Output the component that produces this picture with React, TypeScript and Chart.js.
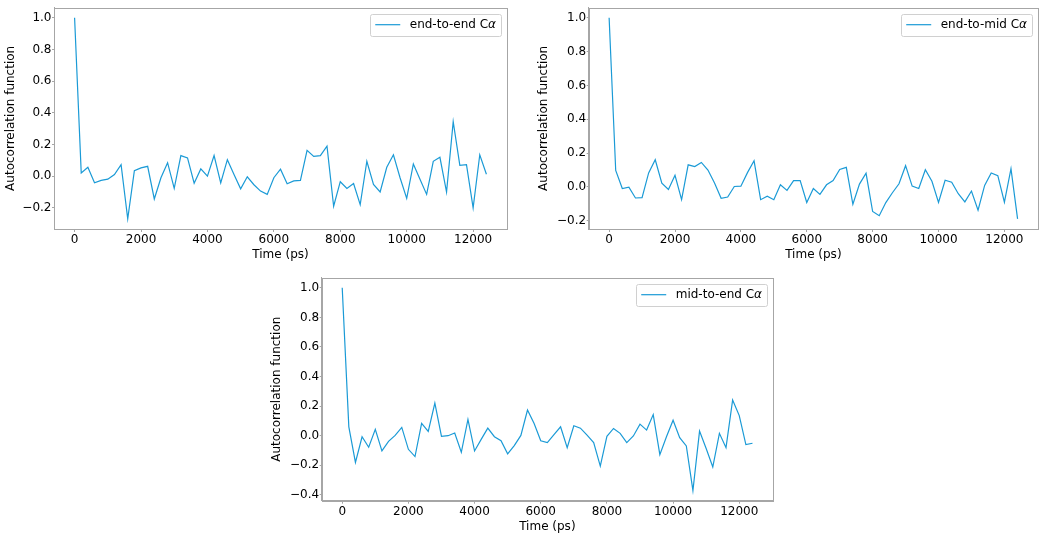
import { useEffect, useRef } from 'react';
import { Chart, registerables } from 'chart.js';

Chart.register(...registerables);

// lag times (ps), one sample every 200 ps
const timePs = [
  0, 200, 400, 600, 800, 1000, 1200, 1400, 1600, 1800, 2000, 2200, 2400, 2600, 2800, 3000,
  3200, 3400, 3600, 3800, 4000, 4200, 4400, 4600, 4800, 5000, 5200, 5400, 5600, 5800, 6000,
  6200, 6400, 6600, 6800, 7000, 7200, 7400, 7600, 7800, 8000, 8200, 8400, 8600, 8800, 9000,
  9200, 9400, 9600, 9800, 10000, 10200, 10400, 10600, 10800, 11000, 11200, 11400, 11600,
  11800, 12000, 12200, 12400,
];

const endToEnd = [
  1.0, 0.02, 0.056, -0.042, -0.027, -0.019, 0.01, 0.073, -0.27, 0.035, 0.052, 0.062, -0.144,
  -0.01, 0.085, -0.077, 0.13, 0.115, -0.044, 0.046, 0.0, 0.13, -0.042, 0.104, 0.01, -0.08,
  -0.004, -0.054, -0.094, -0.115, -0.01, 0.044, -0.048, -0.03, -0.027, 0.163, 0.125, 0.13,
  0.19, -0.19, -0.035, -0.077, -0.046, -0.18, 0.094, -0.052, -0.1, 0.056, 0.135, -0.01,
  -0.14, 0.077, -0.02, -0.115, 0.094, 0.119, -0.1, 0.344, 0.069, 0.073, -0.2, 0.135, 0.0125,
];

const endToMid = [
  1.0, 0.097, -0.01, -0.002, -0.066, -0.064, 0.082, 0.16, 0.021, -0.016, 0.068, -0.076, 0.13,
  0.12, 0.144, 0.099, 0.023, -0.068, -0.06, 0.002, 0.004, 0.084, 0.154, -0.076, -0.056,
  -0.076, 0.012, -0.021, 0.037, 0.037, -0.093, -0.01, -0.045, 0.012, 0.037, 0.103, 0.115,
  -0.103, 0.016, 0.08, -0.146, -0.171, -0.093, -0.035, 0.018, 0.125, 0.004, -0.01, 0.101,
  0.033, -0.093, 0.039, 0.027, -0.041, -0.089, -0.025, -0.138, 0.008, 0.082, 0.066, -0.091,
  0.107, -0.19,
];

const midToEnd = [
  1.0, 0.06, -0.181, -0.007, -0.078, 0.043, -0.103, -0.038, 0.002, 0.056, -0.092, -0.141,
  0.083, 0.029, 0.221, -0.004, 0.0, 0.018, -0.112, 0.11, -0.103, -0.025, 0.051, -0.007,
  -0.034, -0.123, -0.067, 0.002, 0.174, 0.083, -0.034, -0.047, 0.007, 0.06, -0.081, 0.067,
  0.051, 0.004, -0.047, -0.206, -0.004, 0.049, 0.016, -0.047, -0.002, 0.078, 0.038, 0.143,
  -0.128, -0.007, 0.105, -0.013, -0.069, -0.371, 0.031, -0.087, -0.212, 0.016, -0.081, 0.242,
  0.136, -0.06, -0.051,
];

const xTicks = [0, 2000, 4000, 6000, 8000, 10000, 12000];
const yTicksTop = [-0.2, 0, 0.2, 0.4, 0.6, 0.8, 1.0];
const yTicksBottom = [-0.4, -0.2, 0, 0.2, 0.4, 0.6, 0.8, 1.0];

const LINE = '#1a9ad6';
const SPINE = '#a6a6a6';
const FONT = { family: '"DejaVu Sans", sans-serif', size: 12 };

const fmtY = (v: number) => {
  const s = Math.abs(v).toFixed(1);
  return v < -1e-9 ? '\u2212' + s : s;
};

// matplotlib-like frame around the plot area
const framePlugin = {
  id: 'frame',
  afterDatasetsDraw(chart: any) {
    const { ctx, chartArea: a } = chart;
    ctx.save();
    ctx.strokeStyle = SPINE;
    ctx.lineWidth = 1;
    ctx.strokeRect(Math.round(a.left) + 0.5, Math.round(a.top) + 0.5, Math.round(a.right - a.left), Math.round(a.bottom - a.top));
    ctx.restore();
  },
};

// boxed legend in the upper right, with an italic alpha
const legendPlugin = {
  id: 'boxLegend',
  afterDraw(chart: any) {
    const { ctx, chartArea: a } = chart;
    const label: string = chart.data.datasets[0].label;
    const main = label.replace('α', '');
    ctx.save();
    ctx.font = `12px ${FONT.family}`;
    const w1 = ctx.measureText(main).width;
    ctx.font = `italic 12px ${FONT.family}`;
    const w2 = ctx.measureText('α').width;
    const w = 5 + 25 + 9.5 + w1 + w2 + 5;
    const h = 22;
    const x = a.right - 6 - w;
    const y = a.top + 6;
    ctx.fillStyle = 'rgba(255,255,255,0.85)';
    ctx.strokeStyle = '#d0d0d0';
    ctx.lineWidth = 1;
    ctx.beginPath();
    (ctx as any).roundRect(Math.round(x) + 0.5, Math.round(y) + 0.5, Math.round(w), h, 2);
    ctx.fill();
    ctx.stroke();
    const cy = y + h / 2;
    ctx.strokeStyle = LINE;
    ctx.lineWidth = 1.2;
    ctx.beginPath();
    ctx.moveTo(x + 5, cy);
    ctx.lineTo(x + 30, cy);
    ctx.stroke();
    ctx.fillStyle = '#000';
    ctx.textBaseline = 'middle';
    ctx.font = `12px ${FONT.family}`;
    ctx.fillText(main, x + 39.5, cy);
    ctx.font = `italic 12px ${FONT.family}`;
    ctx.fillText('α', x + 39.5 + w1, cy);
    ctx.restore();
  },
};

type PanelProps = {
  values: number[];
  label: string;
  left: number;
  top: number;
  width: number;
  height: number;
  pad: { top: number; right: number; bottom: number };
  yWidth: number;
  xHeight: number;
  yTitlePad: number;
  yMin: number;
  yMax: number;
  yTicks: number[];
};

function Panel(p: PanelProps) {
  const ref = useRef<HTMLCanvasElement>(null);
  useEffect(() => {
    if (!ref.current) return;
    const chart = new Chart(ref.current, {
      type: 'line',
      data: {
        datasets: [
          {
            label: p.label,
            data: timePs.map((t, i) => ({ x: t, y: p.values[i] })),
            borderColor: LINE,
            borderWidth: 1.2,
            pointRadius: 0,
            tension: 0,
            fill: false,
          },
        ],
      },
      options: {
        animation: false,
        responsive: true,
        maintainAspectRatio: false,
        layout: { padding: { left: 0, top: p.pad.top, right: p.pad.right, bottom: p.pad.bottom } },
        plugins: { legend: { display: false }, tooltip: { enabled: false } },
        scales: {
          x: {
            type: 'linear',
            min: -620,
            max: 13020,
            afterBuildTicks: (s: any) => {
              s.ticks = xTicks.map((v) => ({ value: v }));
            },
            afterFit: (s: any) => {
              s.height = p.xHeight;
            },
            grid: { drawOnChartArea: false, drawTicks: true, tickLength: 3, color: SPINE },
            border: { display: true, color: SPINE },
            ticks: {
              color: '#000',
              font: FONT,
              padding: 1,
              maxRotation: 0,
              autoSkip: false,
              callback: (v: any) => String(v),
            },
            title: { display: true, text: 'Time (ps)', color: '#000', font: FONT, padding: 0 },
          },
          y: {
            type: 'linear',
            min: p.yMin,
            max: p.yMax,
            afterBuildTicks: (s: any) => {
              s.ticks = p.yTicks.map((v) => ({ value: v }));
            },
            afterFit: (s: any) => {
              s.width = p.yWidth;
            },
            grid: { drawOnChartArea: false, drawTicks: true, tickLength: 2, color: SPINE },
            border: { display: true, color: SPINE },
            ticks: {
              color: '#000',
              font: FONT,
              padding: 0.5,
              autoSkip: false,
              callback: (v: any) => fmtY(Number(v)),
            },
            title: {
              display: true,
              text: 'Autocorrelation function',
              color: '#000',
              font: FONT,
              padding: { top: p.yTitlePad, bottom: 0 },
            },
          },
        },
      },
      plugins: [framePlugin, legendPlugin],
    } as any);
    return () => chart.destroy();
  }, []);
  return (
    <div style={{ position: 'absolute', left: p.left, top: p.top, width: p.width, height: p.height }}>
      <canvas ref={ref} />
    </div>
  );
}

export default function App() {
  return (
    <div style={{ position: 'absolute', left: 0, top: 0, width: 1045, height: 538, background: '#fff' }}>
      <Panel
        values={endToEnd}
        label="end-to-end Cα"
        left={0}
        top={0}
        width={515}
        height={270}
        pad={{ top: 4, right: 8, bottom: 8 }}
        yWidth={54}
        xHeight={33}
        yTitlePad={3.3}
        yMin={-0.3335}
        yMax={1.0635}
        yTicks={yTicksTop}
      />
      <Panel
        values={endToMid}
        label="end-to-mid Cα"
        left={530}
        top={0}
        width={515}
        height={270}
        pad={{ top: 4, right: 7, bottom: 8 }}
        yWidth={58.7}
        xHeight={33}
        yTitlePad={6.8}
        yMin={-0.2495}
        yMax={1.0595}
        yTicks={yTicksTop}
      />
      <Panel
        values={midToEnd}
        label="mid-to-end Cα"
        left={260}
        top={270}
        width={520}
        height={268}
        pad={{ top: 6.7, right: 7, bottom: 3.8 }}
        yWidth={61.7}
        xHeight={33.5}
        yTitlePad={9.8}
        yMin={-0.4396}
        yMax={1.0686}
        yTicks={yTicksBottom}
      />
    </div>
  );
}
